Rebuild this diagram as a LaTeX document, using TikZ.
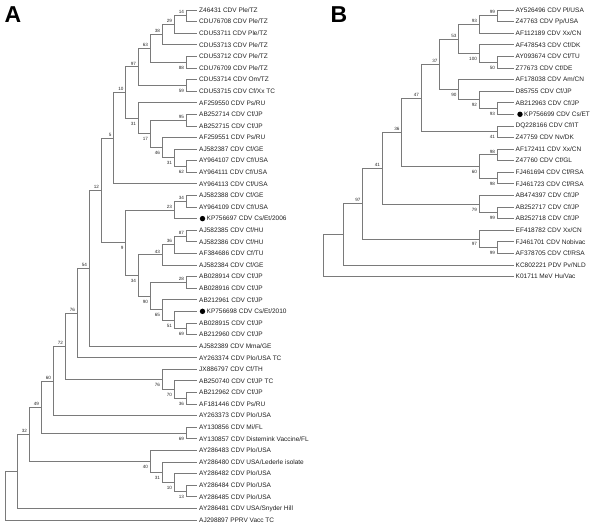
\documentclass[tikz,border=0pt]{standalone}
\usepackage{fontspec}
\setmainfont{Liberation Sans}
\newcommand{\tleaf}[4]{\coordinate (#1) at (#2,#3); \node[leaf] (#1t) at (#1) {#4};}
\newcommand{\tdot}[5]{\coordinate (#1) at (#2,#3); \node[dotn] (#1d) at ([xshift=#5]#1) {}; \node[leaf,inner xsep=0pt] (#1t) at ([xshift=4pt]#1d.center) {#4};}
\newcommand{\tnode}[5]{\coordinate (#1) at (#2,#3); \draw[br] (#1) |- (#4); \draw[br] (#1) |- (#5);}
\newcommand{\bup}[2]{\node[bsa] (#1b) at (#1) {#2};}
\newcommand{\bdn}[2]{\node[bsb] (#1b) at (#1) {#2};}
\begin{document}
\begin{tikzpicture}[x=1pt,y=1pt,
  br/.style={draw=black!52, line width=0.8pt},
  leaf/.style={anchor=west, inner xsep=2pt, inner ysep=0.5pt, font=\fontsize{6.5}{7}\selectfont, text=black!88},
  bsa/.style={anchor=east, inner sep=0.3pt, font=\fontsize{4.6}{5}\selectfont, text=black!85, xshift=-1.6pt, yshift=3.4pt},
  bsb/.style={anchor=east, inner sep=0.3pt, font=\fontsize{4.6}{5}\selectfont, text=black!85, xshift=-1.6pt, yshift=-5.5pt},
  dotn/.style={circle, fill=black, inner sep=0pt, minimum size=5.4pt},
  panel/.style={font=\fontsize{23}{24}\selectfont\bfseries, anchor=base west, inner sep=0pt}]
\useasboundingbox (0,0) rectangle (600,-527);
\node[panel] (pA) at (4.5,-22.5) {A};
\node[panel] (pB) at (330.5,-22.5) {B};
\begin{scope}[y=-11.59pt, yshift=1.59pt]
% ---------------- Panel A leaves
\tleaf{a1}{197}{1}{Z46431 CDV Ple/TZ}
\tleaf{a2}{197}{2}{CDU76708 CDV Ple/TZ}
\tleaf{a3}{197}{3}{CDU53711 CDV Ple/TZ}
\tleaf{a4}{197}{4}{CDU53713 CDV Ple/TZ}
\tleaf{a5}{197}{5}{CDU53712 CDV Ple/TZ}
\tleaf{a6}{197}{6}{CDU76709 CDV Ple/TZ}
\tleaf{a7}{197}{7}{CDU53714 CDV Om/TZ}
\tleaf{a8}{197}{8}{CDU53715 CDV Cf/Xx TC}
\tleaf{a9}{197}{9}{AF259550 CDV Ps/RU}
\tleaf{a10}{197}{10}{AB252714 CDV Cf/JP}
\tleaf{a11}{197}{11}{AB252715 CDV Cf/JP}
\tleaf{a12}{197}{12}{AF259551 CDV Ps/RU}
\tleaf{a13}{197}{13}{AJ582387 CDV Cf/GE}
\tleaf{a14}{197}{14}{AY964107 CDV Cf/USA}
\tleaf{a15}{197}{15}{AY964111 CDV Cf/USA}
\tleaf{a16}{197}{16}{AY964113 CDV Cf/USA}
\tleaf{a17}{197}{17}{AJ582388 CDV Cf/GE}
\tleaf{a18}{197}{18}{AY964109 CDV Cf/USA}
\tdot{a19}{197}{19}{KP756697 CDV Cs/Et/2006}{5.5pt}
\tleaf{a20}{197}{20}{AJ582385 CDV Cf/HU}
\tleaf{a21}{197}{21}{AJ582386 CDV Cf/HU}
\tleaf{a22}{197}{22}{AF384686 CDV Cf/TU}
\tleaf{a23}{197}{23}{AJ582384 CDV Cf/GE}
\tleaf{a24}{197}{24}{AB028914 CDV Cf/JP}
\tleaf{a25}{197}{25}{AB028916 CDV Cf/JP}
\tleaf{a26}{197}{26}{AB212961 CDV Cf/JP}
\tdot{a27}{197}{27}{KP756698 CDV Cs/Et/2010}{5.5pt}
\tleaf{a28}{197}{28}{AB028915 CDV Cf/JP}
\tleaf{a29}{197}{29}{AB212960 CDV Cf/JP}
\tleaf{a30}{197}{30}{AJ582389 CDV Mma/GE}
\tleaf{a31}{197}{31}{AY263374 CDV Plo/USA TC}
\tleaf{a32}{197}{32}{JX886797 CDV Cf/TH}
\tleaf{a33}{197}{33}{AB250740 CDV Cf/JP TC}
\tleaf{a34}{197}{34}{AB212962 CDV Cf/JP}
\tleaf{a35}{197}{35}{AF181446 CDV Ps/RU}
\tleaf{a36}{197}{36}{AY263373 CDV Plo/USA}
\tleaf{a37}{197}{37}{AY130856 CDV Mi/FL}
\tleaf{a38}{197}{38}{AY130857 CDV Distemink Vaccine/FL}
\tleaf{a39}{197}{39}{AY286483 CDV Plo/USA}
\tleaf{a40}{197}{40}{AY286480 CDV USA/Lederle isolate}
\tleaf{a41}{197}{41}{AY286482 CDV Plo/USA}
\tleaf{a42}{197}{42}{AY286484 CDV Plo/USA}
\tleaf{a43}{197}{43}{AY286485 CDV Plo/USA}
\tleaf{a44}{197}{44}{AY286481 CDV USA/Snyder Hill}
\tleaf{a45}{197}{45}{AJ298897 PPRV Vacc TC}
% ---------------- Panel A internal nodes
\tnode{an14}{186}{1.5}{a1}{a2} \bup{an14}{14}
\tnode{an29}{174}{2.25}{an14}{a3} \bup{an29}{29}
\tnode{an38}{162}{3.125}{an29}{a4} \bup{an38}{38}
\tnode{an88}{186}{5.5}{a5}{a6} \bdn{an88}{88}
\tnode{an63}{150}{4.3125}{an38}{an88} \bup{an63}{63}
\tnode{an59}{186}{7.5}{a7}{a8} \bdn{an59}{59}
\tnode{an97}{138}{5.90625}{an63}{an59} \bup{an97}{97}
\tnode{an95}{186}{10.5}{a10}{a11} \bup{an95}{95}
\tnode{an62}{186}{14.5}{a14}{a15} \bdn{an62}{62}
\tnode{an31b}{174}{13.75}{a13}{an62} \bdn{an31b}{31}
\tnode{an46}{162}{12.875}{a12}{an31b} \bdn{an46}{46}
\tnode{an17}{150}{11.6875}{an95}{an46} \bdn{an17}{17}
\tnode{an31}{138}{10.34375}{a9}{an17} \bdn{an31}{31}
\tnode{an10}{125.5}{8.125}{an97}{an31} \bup{an10}{10}
\tnode{an5}{113.5}{12.0625}{an10}{a16} \bup{an5}{5}
\tnode{an34}{186}{17.5}{a17}{a18} \bup{an34}{34}
\tnode{an23}{174}{18.25}{an34}{a19} \bup{an23}{23}
\tnode{an87}{186}{20.5}{a20}{a21} \bup{an87}{87}
\tnode{an36}{174}{21.25}{an87}{a22} \bup{an36}{36}
\tnode{an43}{162}{22.125}{an36}{a23} \bup{an43}{43}
\tnode{an28}{186}{24.5}{a24}{a25} \bup{an28}{28}
\tnode{an69}{186}{28.5}{a28}{a29} \bdn{an69}{69}
\tnode{an51}{174}{27.75}{a27}{an69} \bdn{an51}{51}
\tnode{an65}{162}{26.875}{a26}{an51} \bdn{an65}{65}
\tnode{an90}{150}{25.6875}{an28}{an65} \bdn{an90}{90}
\tnode{an34b}{138}{23.90625}{an43}{an90} \bdn{an34b}{34}
\tnode{an9}{125.5}{21.078125}{an23}{an34b} \bdn{an9}{9}
\tnode{an12}{101}{16.5703}{an5}{an9} \bup{an12}{12}
\tnode{an54}{89}{23.2852}{an12}{a30} \bup{an54}{54}
\tnode{an76}{77}{27.1426}{an54}{a31} \bup{an76}{76}
\tnode{an36b}{186}{34.5}{a34}{a35} \bdn{an36b}{36}
\tnode{an70}{174}{33.75}{a33}{an36b} \bdn{an70}{70}
\tnode{an76b}{162}{32.875}{a32}{an70} \bdn{an76b}{76}
\tnode{an72}{65}{30.0088}{an76}{an76b} \bup{an72}{72}
\tnode{an60}{53}{33.0044}{an72}{a36} \bup{an60}{60}
\tnode{an69b}{186}{37.5}{a37}{a38} \bdn{an69b}{69}
\tnode{an49}{41}{35.2522}{an60}{an69b} \bup{an49}{49}
\tnode{an13}{186}{42.5}{a42}{a43} \bdn{an13}{13}
\tnode{an10c}{174}{41.75}{a41}{an13} \bdn{an10c}{10}
\tnode{an31c}{162}{40.875}{a40}{an10c} \bdn{an31c}{31}
\tnode{an40}{150}{39.9375}{a39}{an31c} \bdn{an40}{40}
\tnode{an32}{29}{37.5948}{an49}{an40} \bup{an32}{32}
\tnode{ana}{17}{40.7974}{an32}{a44}
\tnode{aroot}{5}{42.8987}{ana}{a45}
% ---------------- Panel B leaves
\tleaf{b1}{513.5}{1}{AY526496 CDV Pl/USA}
\tleaf{b2}{513.5}{2}{Z47763 CDV Pp/USA}
\tleaf{b3}{513.5}{3}{AF112189 CDV Xx/CN}
\tleaf{b4}{513.5}{4}{AF478543 CDV Cf/DK}
\tleaf{b5}{513.5}{5}{AY093674 CDV Cf/TU}
\tleaf{b6}{513.5}{6}{Z77673 CDV Cf/DE}
\tleaf{b7}{513.5}{7}{AF178038 CDV Am/CN}
\tleaf{b8}{513.5}{8}{D85755 CDV Cf/JP}
\tleaf{b9}{513.5}{9}{AB212963 CDV Cf/JP}
\tdot{b10}{513.5}{10}{KP756699 CDV Cs/ET}{6.5pt}
\tleaf{b11}{513.5}{11}{DQ228166 CDV Cf/IT}
\tleaf{b12}{513.5}{12}{Z47759 CDV Nv/DK}
\tleaf{b13}{513.5}{13}{AF172411 CDV Xx/CN}
\tleaf{b14}{513.5}{14}{Z47760 CDV Cf/GL}
\tleaf{b15}{513.5}{15}{FJ461694 CDV Cf/RSA}
\tleaf{b16}{513.5}{16}{FJ461723 CDV Cf/RSA}
\tleaf{b17}{513.5}{17}{AB474397 CDV Cf/JP}
\tleaf{b18}{513.5}{18}{AB252717 CDV Cf/JP}
\tleaf{b19}{513.5}{19}{AB252718 CDV Cf/JP}
\tleaf{b20}{513.5}{20}{EF418782 CDV Xx/CN}
\tleaf{b21}{513.5}{21}{FJ461701 CDV Nobivac}
\tleaf{b22}{513.5}{22}{AF378705 CDV Cf/RSA}
\tleaf{b23}{513.5}{23}{KC802221 PDV Pv/NLD}
\tleaf{b24}{513.5}{24}{K01711 MeV Hu/Vac}
% ---------------- Panel B internal nodes
\tnode{bn99}{497}{1.5}{b1}{b2} \bup{bn99}{99}
\tnode{bn93}{479}{2.25}{bn99}{b3} \bup{bn93}{93}
\tnode{bn50}{497}{5.5}{b5}{b6} \bdn{bn50}{50}
\tnode{bn100}{479}{4.75}{b4}{bn50} \bdn{bn100}{100}
\tnode{bn53}{458.5}{3.5}{bn93}{bn100} \bup{bn53}{53}
\tnode{bn93b}{497}{9.5}{b9}{b10} \bdn{bn93b}{93}
\tnode{bn92}{479}{8.75}{b8}{bn93b} \bdn{bn92}{92}
\tnode{bn90}{458.5}{7.875}{b7}{bn92} \bdn{bn90}{90}
\tnode{bn37}{439.5}{5.6875}{bn53}{bn90} \bup{bn37}{37}
\tnode{bn41}{497}{11.5}{b11}{b12} \bdn{bn41}{41}
\tnode{bn47}{421}{8.59375}{bn37}{bn41} \bup{bn47}{47}
\tnode{bn98}{497}{13.5}{b13}{b14} \bup{bn98}{98}
\tnode{bn98b}{497}{15.5}{b15}{b16} \bdn{bn98b}{98}
\tnode{bn60}{479}{14.5}{bn98}{bn98b} \bdn{bn60}{60}
\tnode{bn36}{401.5}{11.546875}{bn47}{bn60} \bup{bn36}{36}
\tnode{bn99b}{497}{18.5}{b18}{b19} \bdn{bn99b}{99}
\tnode{bn79}{479}{17.75}{b17}{bn99b} \bdn{bn79}{79}
\tnode{bn41b}{382}{14.6484}{bn36}{bn79} \bup{bn41b}{41}
\tnode{bn99c}{497}{21.5}{b21}{b22} \bdn{bn99c}{99}
\tnode{bn97c}{479}{20.75}{b20}{bn99c} \bdn{bn97c}{97}
\tnode{bn97}{362.5}{17.6992}{bn41b}{bn97c} \bup{bn97}{97}
\tnode{bnx}{343.3}{20.3496}{bn97}{b23}
\tnode{broot}{323.5}{22.1748}{bnx}{b24}
\end{scope}
\end{tikzpicture}
\end{document}
